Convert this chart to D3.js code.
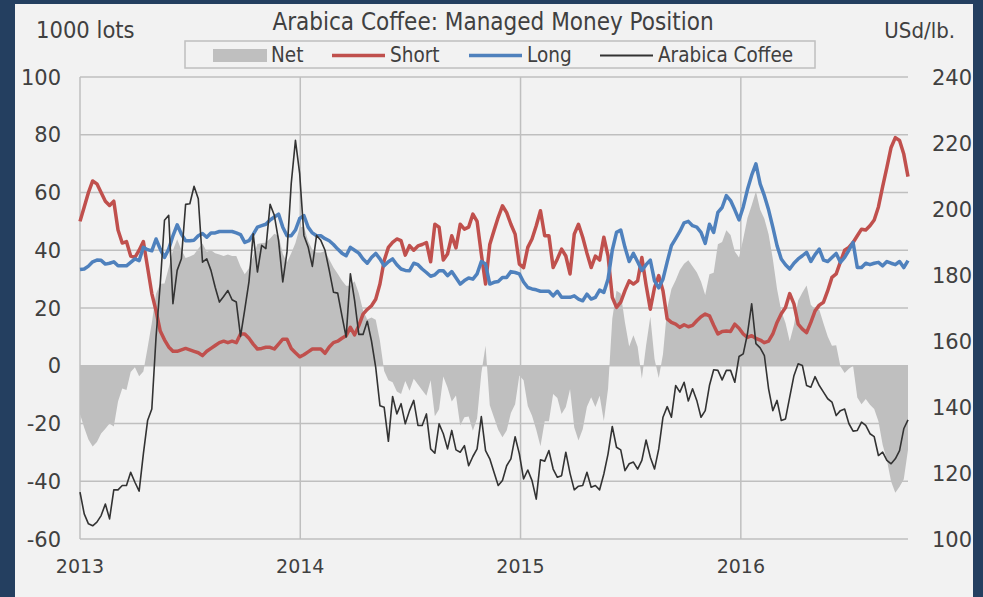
<!DOCTYPE html>
<html>
<head>
<meta charset="utf-8">
<script src="https://cdn.jsdelivr.net/npm/d3@7"></script>
<style>
  html, body { margin: 0; padding: 0; background: #243f60; }
  svg { display: block; }
  text { fill: #404040; }
</style>
</head>
<body>
<svg id="chart" width="983" height="597"></svg>
<script>
// weekly positions, 1000 lots, first week 2013-01-01
var startDate = new Date(2013, 0, 1);

var shortPos = [50,55,60,64,63,60,57,55.5,57,47,42.5,43,38,37.5,40,43,34,25,19,12,
  9,6.5,5,5,5.5,6,5.5,5,4.5,3.5,5,6,7,8,8.5,8,8.5,8,11,11,
  9.5,7.5,5.8,6,6.4,6.4,5.8,7.5,9.2,9.2,6,4.5,3.1,3.8,4.8,5.8,5.8,5.8,4.3,6.5,
  8,8.5,9.5,10.4,13.3,10.7,13.9,17.9,19.5,20.8,23,28.3,36.4,41,42.7,43.9,43.3,38.3,41.6,40,
  41.5,42,42.7,36,49,48,36.6,38.7,45,40.8,49,47.3,48,52.5,50,38.7,28.3,42,46.8,51.4,
  55.4,53,49,45.6,35.2,34,41,43.9,48.5,53.7,45,45,34,37,40.4,38,31.8,45.6,49,44.5,
  39,34,38,36.6,44.5,38,23.7,20.2,22,26,29.4,28.3,29.4,37.5,28,19.6,27.1,31.2,26,16.2,
  15,14.4,13.3,14.2,13.5,14,15.6,17,17.9,17.3,14,11,11.9,12,11.9,14.4,13,11,9.8,10.4,
  9.5,8.9,8,8.5,11,15,18,20.2,25,21.4,14.4,12.7,11.5,15,19,21,22,26,30.6,31.8,
  36,40,41,42.7,45,47.3,47,48.5,50.5,55,62,68.7,75.6,79,78,73.3,65.5];

var longPos = [33.3,33.5,34.5,36,36.6,36.5,35.2,35.5,36,34.6,34.6,34.6,35.8,37,36.4,41,40.2,39.8,43.9,40.4,
  37.5,40.4,45,48.8,45.6,43.3,43.3,43.5,45,45.8,44.5,46,46,46.5,46.5,46.5,46.5,46,45.4,42.7,
  43.3,45.5,48,48.5,49,50.5,51.5,52.5,48,45,45,47,51,52,48,46,45,45,44,43.3,
  42,40.4,39,38.1,41,40,39,37,35.5,37.5,38.9,37,34.6,36,37,35,33.5,33,32.9,35.5,
  35,33.5,32.3,31,31.5,32.9,32.9,31.2,32.6,30.5,28.3,29.5,30.4,30,31.8,36.1,35.2,28.3,28.9,29.2,
  30.6,30.6,32.6,32.3,31.8,29,27.1,26.6,26.3,25.8,25.8,25.8,24.2,25.8,23.7,23.7,23.7,24.2,23.1,22.5,
  24.8,23.1,23.7,26.2,25.4,30,40,46.2,47,41,36.1,38.9,36,33,35,36.6,29.4,27,30,36,
  41.6,44,46.5,49.5,50,48.5,48,46.2,42.4,49,46.2,53.1,54.8,58.9,57.2,54,50.5,55,61,66,
  69.9,63,58.9,54,48,41.6,37,35,33.5,35.5,37,38.1,39.3,36.1,38.5,40.4,36.6,36.1,37.5,38.9,
  35.8,37.5,40,42.7,34,34,35.5,35,35.5,35.8,34.6,36.1,35.5,35,36.1,34,36.4];

var netPos = [-16.7,-21.5,-25.5,-28,-26.4,-23.5,-21.8,-20,-21,-12.4,-7.9,-8.4,-2.2,-0.5,-3.6,-2,6.2,14.8,24.9,28.4,
  28.5,33.9,40,43.8,40.1,37.3,37.8,38.5,40.5,42.3,39.5,40,39,38.5,38,38.5,38,38,34.4,31.7,
  33.8,38,42.2,42.5,42.6,44.1,45.7,45,38.8,35.8,39,42.5,47.9,48.2,43.2,40.2,39.2,39.2,39.7,36.8,
  34,31.9,29.5,27.7,27.7,29.3,25.1,19.1,16,16.7,15.9,8.7,-1.8,-5,-5.7,-8.9,-9.8,-5.3,-8.7,-4.5,
  -6.5,-8.5,-10.4,-5,-17.5,-15.1,-3.7,-7.5,-12.4,-10.3,-20.7,-17.8,-17.6,-22.5,-18.2,-2.6,6.9,-13.7,-17.9,-22.2,
  -24.8,-22.4,-16.4,-13.3,-3.4,-5,-13.9,-17.3,-22.2,-27.9,-19.2,-19.2,-9.8,-11.2,-16.7,-14.3,-8.1,-21.4,-25.9,-22,
  -14.2,-10.9,-14.3,-10.4,-19.1,-8,16.3,26,25,15,6.7,10.6,6.6,-4.5,7,17,2.3,-4.2,4,19.8,
  26.6,29.6,33.2,35.3,36.5,34.5,32.4,29.2,24.5,31.7,32.2,42.1,42.9,46.9,45.3,39.6,37.5,44,51.2,55.6,
  60.4,54.1,50.9,45.5,37,26.6,19,14.8,8.5,14.1,22.6,25.4,27.8,21.1,19.5,19.4,14.6,10.1,6.9,7.1,
  -0.2,-2.5,-1,0,-11,-13.3,-11.5,-13.5,-15,-19.2,-27.4,-32.6,-40.1,-44,-41.9,-39.3,-29.1];

// Arabica coffee price, USd/lb., same weeks
var coffee = [114.2,107.6,104.6,104,105.1,107.1,110.6,106.1,114.9,114.9,116.2,116.2,120.2,117.2,114.5,125.8,135.9,139.4,161.2,177.4,
  196.6,198.1,171.3,181.4,184.9,201.4,201.6,206.9,203.1,183.9,184.9,181.4,176.3,171.8,173.5,175.3,172.5,171.8,161.4,169.5,
  178,192.5,180.9,189,188,201.4,198.1,190.5,177.9,187,207.7,220.8,210.7,192,188.5,182.6,192,190.5,187.5,181.4,
  174.8,174.5,167.7,161.2,180.4,172.3,162,162,166,160,152,140.4,139.9,129.6,143.2,137.9,141,134.9,138.9,142,
  134.4,134.4,137.9,127.3,126,134.9,131.9,127.3,132.9,127,126.3,128.3,122.2,125,127.3,137.1,126.8,124.3,120.2,116.2,
  117.7,122.2,124.3,131,125.8,118.2,120.9,117.7,112.1,124,123.6,126.8,121.2,118.7,119.2,126.3,119.9,114.9,116,116.2,
  120.2,115.7,116.2,114.9,119.7,125.8,134.1,127.8,127,120.7,122.8,123.3,121.2,123.8,130,124.8,121.2,127.3,136.9,140.1,
  136.9,146.5,144.5,147.5,141.8,145.5,142,136.9,138.9,146.5,151.3,151.1,148.2,151.1,151.1,147.5,155.3,156.1,162.2,171.3,
  159.2,157.9,155.6,145.5,138.9,142,135.9,136.4,143,149.5,153.1,152.6,146.5,146,149.2,146.5,144.5,142.5,141.5,137.4,
  138.9,139.4,135,132.7,132.9,135.4,134.4,131.9,131,125.3,126.3,123.8,122.8,124.3,126.8,133.4,136.1];

var leftTicks = [-60, -40, -20, 0, 20, 40, 60, 80, 100];
var rightTicks = [100, 120, 140, 160, 180, 200, 220, 240];
var yearTicks = [2013, 2014, 2015, 2016];

var seriesNames = ['Net', 'Short', 'Long', 'Arabica Coffee'];
var seriesColors = ['#bfbfbf', '#c0504d', '#4f81bd', '#333333'];

var svg = d3.select('#chart');

// panel
svg.append('rect').attr('x', 15).attr('y', 4).attr('width', 958).attr('height', 593).attr('fill', '#f2f2f2');

var margin = {left: 80, right: 908, top: 77, bottom: 539};

var dates = d3.range(shortPos.length).map(function(i) { return d3.timeDay.offset(startDate, 7 * i); });

var x = d3.scaleTime()
  .domain([startDate, new Date(2016, 9, 4)])
  .range([margin.left, margin.right]);
var yL = d3.scaleLinear().domain([-60, 100]).range([margin.bottom, margin.top]);
var yR = d3.scaleLinear().domain([100, 240]).range([margin.bottom, margin.top]);

var grid = svg.append('g').attr('stroke', '#bfbfbf').attr('stroke-width', 1.5);
grid.selectAll('.h').data(leftTicks).enter().append('line')
  .attr('x1', margin.left).attr('x2', margin.right)
  .attr('y1', function(d) { return yL(d); }).attr('y2', function(d) { return yL(d); });
grid.selectAll('.v').data(yearTicks).enter().append('line')
  .attr('x1', function(d) { return x(new Date(d, 0, 1)); })
  .attr('x2', function(d) { return x(new Date(d, 0, 1)); })
  .attr('y1', margin.top).attr('y2', margin.bottom);

// net area
var area = d3.area()
  .x(function(d, i) { return x(dates[i]); })
  .y0(yL(0))
  .y1(function(d) { return yL(d); });
svg.append('path').datum(netPos).attr('d', area).attr('fill', seriesColors[0]);

var lineL = d3.line().x(function(d, i) { return x(dates[i]); }).y(function(d) { return yL(d); });
var lineR = d3.line().x(function(d, i) { return x(dates[i]); }).y(function(d) { return yR(d); });

svg.append('path').datum(shortPos).attr('d', lineL)
  .attr('fill', 'none').attr('stroke', seriesColors[1]).attr('stroke-width', 3.5).attr('stroke-linejoin', 'round');
svg.append('path').datum(longPos).attr('d', lineL)
  .attr('fill', 'none').attr('stroke', seriesColors[2]).attr('stroke-width', 3.5).attr('stroke-linejoin', 'round');
svg.append('path').datum(coffee).attr('d', lineR)
  .attr('fill', 'none').attr('stroke', seriesColors[3]).attr('stroke-width', 1.6).attr('stroke-linejoin', 'round');

// axes labels
var tickFont = 'DejaVu Sans, Verdana, sans-serif';
svg.append('g').selectAll('text').data(leftTicks).enter().append('text')
  .attr('x', 61).attr('y', function(d) { return yL(d); })
  .attr('dy', '0.36em').attr('text-anchor', 'end')
  .style('font-family', tickFont).style('font-size', '21px')
  .text(function(d) { return d; });
svg.append('g').selectAll('text').data(rightTicks).enter().append('text')
  .attr('x', 932).attr('y', function(d) { return yR(d); })
  .attr('dy', '0.36em').attr('text-anchor', 'start')
  .style('font-family', tickFont).style('font-size', '21px')
  .text(function(d) { return d; });
svg.append('g').selectAll('text').data(yearTicks).enter().append('text')
  .attr('x', function(d) { return x(new Date(d, 0, 1)); }).attr('y', 573)
  .attr('text-anchor', 'middle')
  .style('font-family', tickFont).style('font-size', '19px')
  .text(function(d) { return d; });

// titles
var condFont = 'DejaVu Sans Condensed, DejaVu Sans, sans-serif';
svg.append('text').attr('x', 493).attr('y', 30).attr('text-anchor', 'middle')
  .style('font-family', condFont).style('font-stretch', 'condensed').style('font-size', '24px')
  .text('Arabica Coffee: Managed Money Position');
svg.append('text').attr('x', 36).attr('y', 38)
  .style('font-family', condFont).style('font-stretch', 'condensed').style('font-size', '23.5px')
  .text('1000 lots');
svg.append('text').attr('x', 955).attr('y', 38).attr('text-anchor', 'end')
  .style('font-family', condFont).style('font-stretch', 'condensed').style('font-size', '22px')
  .text('USd/lb.');

// legend
var legend = svg.append('g');
legend.append('rect').attr('x', 185).attr('y', 41).attr('width', 630).attr('height', 27)
  .attr('fill', '#f2f2f2').attr('stroke', '#bfbfbf').attr('stroke-width', 1.5);
var legendX = [213, 332, 469, 600];
seriesNames.forEach(function(name, i) {
  var g = legend.append('g').attr('transform', 'translate(' + legendX[i] + ',0)');
  if (i === 0) {
    g.append('rect').attr('x', 0).attr('y', 49).attr('width', 54).attr('height', 13).attr('fill', seriesColors[0]);
  } else {
    g.append('line').attr('x1', 0).attr('x2', 53).attr('y1', 55.5).attr('y2', 55.5)
      .attr('stroke', seriesColors[i]).attr('stroke-width', i === 3 ? 1.8 : 3.5);
  }
  g.append('text').attr('x', 58).attr('y', 62)
    .style('font-family', condFont).style('font-stretch', 'condensed').style('font-size', '20.5px')
    .text(name);
});
</script>
</body>
</html>
